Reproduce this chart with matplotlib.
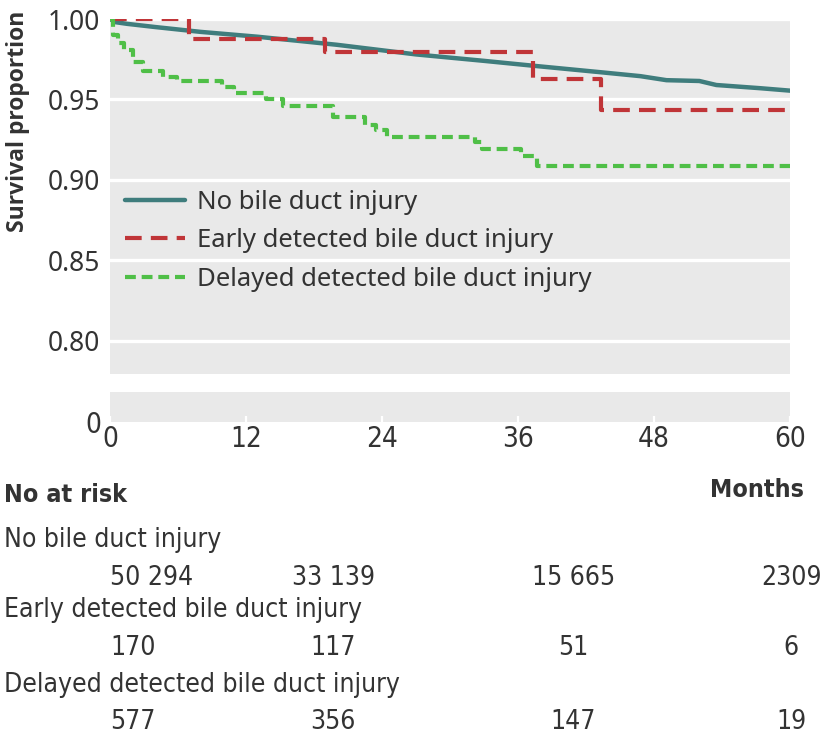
import matplotlib
matplotlib.use("Agg")
import matplotlib.pyplot as plt
import matplotlib.transforms as mtransforms
from matplotlib import font_manager
import numpy as np

# survival curves (months, proportion)
no_bdi_t = [0, 0.5, 1.5, 4, 8, 13, 20, 27, 33, 37.3, 43.2, 46.8, 49.1, 52, 53.5, 57.4, 60]
no_bdi_s = [1.0, 0.998, 0.997, 0.995, 0.992, 0.989, 0.984, 0.978, 0.974, 0.971, 0.967,
            0.9645, 0.962, 0.9615, 0.959, 0.957, 0.9555]

early_t = [0, 7.0, 19.0, 37.3, 43.3, 60]
early_s = [1.0, 0.9875, 0.9795, 0.9625, 0.9435, 0.9435]

delayed_t = [0, 0.3, 0.7, 1.2, 2.0, 2.9, 4.7, 5.9, 9.9, 10.9, 13.8, 15.3, 19.7, 22.5,
             23.5, 24.4, 32.2, 32.8, 36.3, 37.7, 60]
delayed_s = [1.0, 0.990, 0.985, 0.981, 0.973, 0.968, 0.964, 0.9615, 0.958, 0.954, 0.950,
             0.946, 0.939, 0.934, 0.931, 0.927, 0.9235, 0.919, 0.915, 0.9087, 0.9087]

labels = ["No bile duct injury", "Early detected bile duct injury",
          "Delayed detected bile duct injury"]
colors = ["#3f7d7d", "#c03538", "#4fbf47"]

y_ticks = [0.80, 0.85, 0.90, 0.95, 1.00]
x_ticks = [0, 12, 24, 36, 48, 60]

# numbers at risk
risk_cols = [0, 19.7, 40.9, 60.1]
risk_no = ["50 294", "33 139", "15 665", "2309"]
risk_early = ["170", "117", "51", "6"]
risk_delayed = ["577", "356", "147", "19"]

names = {f.name for f in font_manager.fontManager.ttflist}
if "Liberation Sans Narrow" in names:
    narrow = dict(family="Liberation Sans Narrow")
else:
    narrow = dict(family="DejaVu Sans", stretch="condensed")
regular = dict(family="Noto Sans")
boldfam = dict(family=["Open Sans", "DejaVu Sans"])

txt = "#333333"
bg = "#e9e9e9"

fig = plt.figure(figsize=(8.24, 7.36), dpi=100)
W, H = 824, 736
ax = fig.add_axes([110 / W, 1 - 374 / H, 680 / W, 355 / H])
axb = fig.add_axes([110 / W, 1 - 422 / H, 680 / W, 30 / H])

for a in (ax, axb):
    a.set_facecolor(bg)
    for s in a.spines.values():
        s.set_visible(False)
    a.set_xlim(0, 60)

ax.set_ylim(0.7795, 1.0)
ax.set_yticks(y_ticks)
ax.set_yticklabels(["%.2f" % v for v in y_ticks], fontsize=19, color=txt, **regular)
ax.tick_params(axis="y", length=0, pad=7)
ax.tick_params(axis="x", length=0, labelbottom=False)
ax.grid(axis="y", color="white", linewidth=2.4)
ax.set_axisbelow(True)

ax.plot(no_bdi_t, no_bdi_s, color=colors[0], lw=3.2, label=labels[0], solid_capstyle="round")
ax.plot(early_t, early_s, color=colors[1], lw=3.0, drawstyle="steps-post",
        dashes=(4, 2.2), label=labels[1])
ax.plot(delayed_t, delayed_s, color=colors[2], lw=3.0, drawstyle="steps-post",
        dashes=(2.6, 1.4), label=labels[2])

leg = ax.legend(loc="center left", bbox_to_anchor=(15 / 680, 0.375), frameon=False,
                borderpad=0, borderaxespad=0, handlelength=2.35, handletextpad=0.47,
                labelspacing=0.52, prop=dict(size=18.5, **regular))
for t in leg.get_texts():
    t.set_color(txt)

axb.set_ylim(0, 1)
axb.set_yticks([0])
axb.set_yticklabels(["0"], fontsize=20, color=txt, **narrow)
axb.tick_params(axis="y", length=0, pad=6)
axb.set_xticks(x_ticks)
axb.set_xticklabels([str(v) for v in x_ticks], fontsize=20, color=txt, **narrow)
axb.tick_params(axis="x", direction="in", color="white", length=4.5, width=1.6, pad=2)

fig.text(18 / W, 1 - 121 / H, "Survival proportion", rotation=90, ha="center", va="center",
         fontsize=16.5, fontweight="bold", color=txt, **boldfam)

# numbers at risk table
tr = mtransforms.blended_transform_factory(axb.transData, fig.transFigure)
fig.text(4 / W, 1 - 495 / H, "No at risk", fontsize=18, fontweight="bold", color=txt,
         va="center", **narrow)
fig.text(804 / W, 1 - 490 / H, "Months", fontsize=18, fontweight="bold", color=txt,
         va="center", ha="right", **narrow)
rows = [(risk_no, 540, 578), (risk_early, 610, 648), (risk_delayed, 685, 722)]
for i, (vals, ylab, ynum) in enumerate(rows):
    fig.text(4 / W, 1 - ylab / H, labels[i], fontsize=19, color=txt, va="center", **narrow)
    for j, v in enumerate(vals):
        fig.text(risk_cols[j], 1 - ynum / H, v, transform=tr, fontsize=19, color=txt,
                 va="center", ha="left" if j == 0 else "center", **narrow)

fig.savefig("out.png", dpi=100)
